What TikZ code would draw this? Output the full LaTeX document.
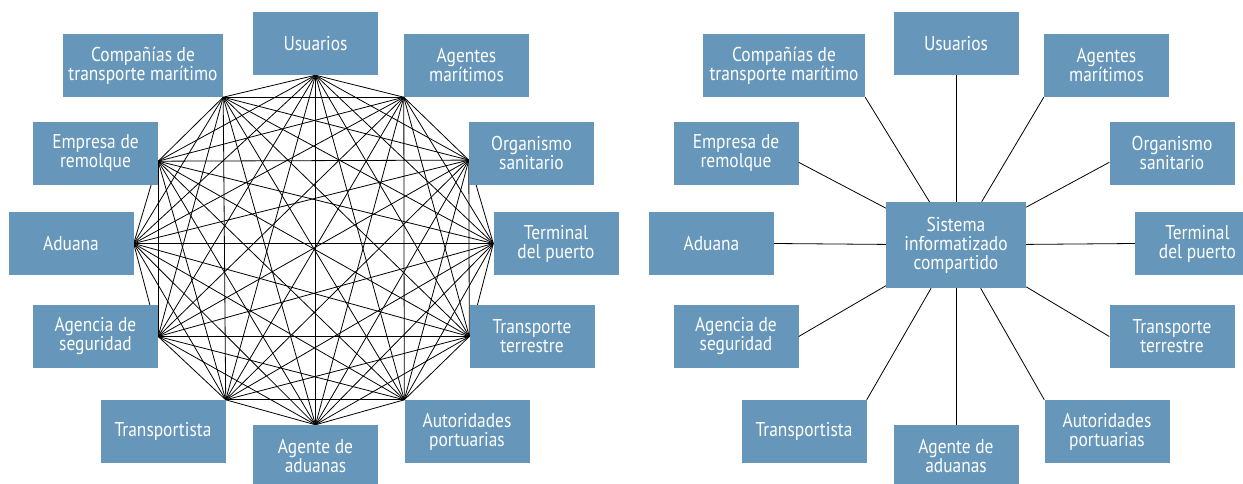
\documentclass[tikz,border=0pt]{standalone}
\usepackage{fontspec}
\newfontfamily\boxfont{PT Sans}[FakeStretch=0.87]
\usetikzlibrary{backgrounds}
\definecolor{boxblue}{RGB}{102,151,186}
\tikzset{
  box/.style={fill=boxblue, text=white, minimum width=125pt, minimum height=63pt,
    inner sep=2pt, align=center, font=\boxfont\fontsize{20}{19}\selectfont},
  link/.style={line width=0.8pt}
}
\begin{document}
\begin{tikzpicture}[x=1pt,y=1pt]
  \useasboundingbox (0,0) rectangle (1243,483);

  % todos con todos
  \node[box] (usu) at (315.5,439.5) {Usuarios};
  \node[box, minimum width=160pt] (comp) at (143,417.5) {Compañías de\\transporte marítimo};
  \node[box] (agm) at (466.5,417.5) {Agentes\\marítimos};
  \node[box] (emp) at (95.5,329.5) {Empresa de\\remolque};
  \node[box] (org) at (531.5,329.5) {Organismo\\sanitario};
  \node[box] (adu) at (71,239.5) {Aduana};
  \node[box] (term) at (556,239.5) {Terminal\\del puerto};
  \node[box] (agen) at (95.5,146.5) {Agencia de\\seguridad};
  \node[box] (terr) at (532,146.5) {Transporte\\terrestre};
  \node[box] (trans) at (163,51.5) {Transportista};
  \node[box] (agad) at (315.5,26.5) {Agente de\\aduanas};
  \node[box] (aut) at (467,51.5) {Autoridades\\portuarias};

  \begin{scope}[on background layer]
    \foreach \a [count=\i] in {usu.south, agm.south west, org.186, term.west, terr.west,
        aut.north west, agad.north, trans.north east, agen.east, adu.east, emp.-7, comp.south east}
      \coordinate (p\i) at (\a);
    \foreach \i in {1,...,11}{
      \pgfmathtruncatemacro{\n}{\i+1}
      \foreach \j in {\n,...,12}
        \draw[link] (p\i) -- (p\j);
    }
  \end{scope}

  % sistema compartido
  \node[box, minimum width=140pt, minimum height=86pt] (sys) at (956,238) {Sistema\\informatizado\\compartido};
  \node[box] (usu2) at (956,439.5) {Usuarios};
  \node[box, minimum width=162pt] (comp2) at (784,417.5) {Compañías de\\transporte marítimo};
  \node[box] (agm2) at (1106.5,417.5) {Agentes\\marítimos};
  \node[box] (emp2) at (736,329.5) {Empresa de\\remolque};
  \node[box] (org2) at (1172,329.5) {Organismo\\sanitario};
  \node[box] (adu2) at (711.5,239.5) {Aduana};
  \node[box] (term2) at (1197.5,239.5) {Terminal\\del puerto};
  \node[box] (agen2) at (736,146.5) {Agencia de\\seguridad};
  \node[box] (terr2) at (1172,146.5) {Transporte\\terrestre};
  \node[box] (trans2) at (804,51.5) {Transportista};
  \node[box] (agad2) at (956,26.5) {Agente de\\aduanas};
  \node[box] (aut2) at (1107,51.5) {Autoridades\\portuarias};

  \foreach \a in {usu2.south, agm2.south west, org2.188, term2.west, terr2.west, aut2.north west,
      agad2.north, trans2.north east, agen2.east, adu2.east, emp2.-8, comp2.south east}
    \draw[link] (sys) -- (\a);
\end{tikzpicture}
\end{document}
